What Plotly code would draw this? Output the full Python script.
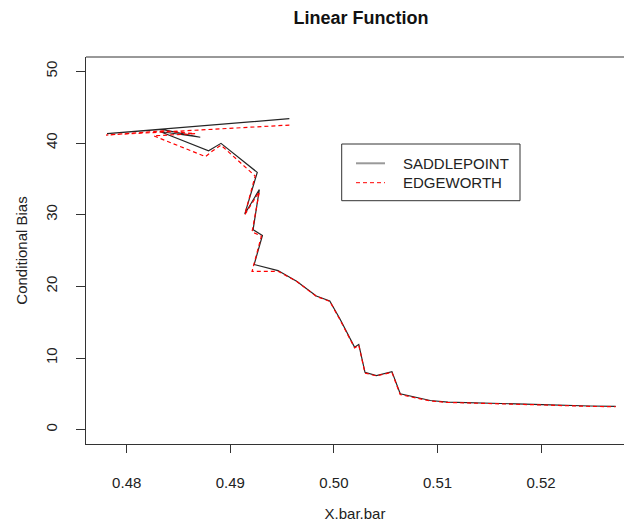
import plotly.graph_objects as go

# Saddlepoint approximation (drawn in data order)
saddle_x = [0.4957, 0.4781, 0.4834, 0.4871, 0.4832, 0.4879, 0.4891, 0.4926,
            0.4914, 0.4928, 0.4922, 0.4931, 0.4923, 0.4946, 0.4964, 0.4983,
            0.4996, 0.5006, 0.5020, 0.5024, 0.5030, 0.5041, 0.5056, 0.5064,
            0.5077, 0.5093, 0.5110, 0.5157, 0.5201, 0.5247, 0.5272]
saddle_y = [43.4, 41.3, 41.9, 40.8, 41.6, 38.9, 39.95, 35.9,
            30.1, 33.5, 27.9, 27.1, 23.05, 22.2, 20.7, 18.65,
            17.96, 15.4, 11.5, 11.9, 8.0, 7.55, 8.1, 5.0,
            4.54, 4.07, 3.85, 3.7, 3.5, 3.3, 3.25]

# Edgeworth approximation
edge_x = [0.4957, 0.4780, 0.4835, 0.4866, 0.4826, 0.4876, 0.4882, 0.4891,
          0.4924, 0.4914, 0.4928, 0.4921, 0.4930, 0.4921, 0.4946, 0.4964,
          0.4983, 0.4996, 0.5006, 0.5020, 0.5024, 0.5030, 0.5041, 0.5056,
          0.5064, 0.5077, 0.5093, 0.5110, 0.5157, 0.5201, 0.5247, 0.5272]
edge_y = [42.5, 41.1, 41.7, 41.3, 41.0, 38.1, 38.8, 39.7,
          35.4, 30.0, 33.2, 27.6, 27.0, 22.1, 22.1, 20.7,
          18.6, 17.9, 15.3, 11.4, 11.8, 7.9, 7.5, 8.0,
          4.9, 4.5, 4.0, 3.8, 3.65, 3.45, 3.25, 3.2]

x_ticks = [0.48, 0.49, 0.50, 0.51, 0.52]
x_tick_labels = ["0.48", "0.49", "0.50", "0.51", "0.52"]
y_ticks = [0, 10, 20, 30, 40, 50]
series_names = ["SADDLEPOINT", "EDGEWORTH"]

FONT = "Liberation Sans, Arial, sans-serif"
TXT = "#222222"

fig = go.Figure()
fig.add_trace(go.Scatter(x=saddle_x, y=saddle_y, mode="lines", name=series_names[0],
                         line=dict(color="#262626", width=1.2), showlegend=False))
fig.add_trace(go.Scatter(x=edge_x, y=edge_y, mode="lines", name=series_names[1],
                         line=dict(color="red", width=1.2, dash="4px,3px"), showlegend=False))

# plot area in pixels: left 86, right 624, top 57, bottom 444
L, R, T, B = 86, 624, 57, 444
W, H = 624, 524


def px(xp):
    return (xp - L) / (R - L)


def py(yp):
    return (B - yp) / (B - T)


shapes = [
    # top border of the box
    dict(type="line", xref="paper", yref="paper", x0=0, x1=1, y0=1, y1=1,
         line=dict(color="#333333", width=1)),
    # legend box
    dict(type="rect", xref="paper", yref="paper", x0=px(341.7), x1=px(520),
         y0=py(200.7), y1=py(144), line=dict(color="#333333", width=1),
         fillcolor="white"),
    dict(type="line", xref="paper", yref="paper", x0=px(356), x1=px(385),
         y0=py(163.3), y1=py(163.3), line=dict(color="#999999", width=2)),
    dict(type="line", xref="paper", yref="paper", x0=px(356), x1=px(385),
         y0=py(182.7), y1=py(182.7), line=dict(color="red", width=1, dash="4px,3px")),
]
annotations = [
    dict(xref="paper", yref="paper", x=px(400.7), y=py(163.3), text=series_names[0],
         showarrow=False, xanchor="left", yanchor="middle",
         font=dict(family=FONT, size=15, color=TXT)),
    dict(xref="paper", yref="paper", x=px(400.7), y=py(182.7), text=series_names[1],
         showarrow=False, xanchor="left", yanchor="middle",
         font=dict(family=FONT, size=15, color=TXT)),
]

fig.update_layout(
    width=W, height=H,
    margin=dict(l=L, r=W - R, t=T, b=H - B, pad=0),
    plot_bgcolor="white", paper_bgcolor="white",
    font=dict(family=FONT, size=15, color=TXT),
    title=dict(text="<b>Linear Function</b>", x=361 / W, xref="container", xanchor="center",
               y=1 - 18 / H, yref="container", yanchor="middle",
               font=dict(family=FONT, size=18, color="#111111")),
    xaxis=dict(range=[0.47607, 0.48 + (R - 126.7) / 10360], tickvals=x_ticks,
               ticktext=x_tick_labels, ticks="outside", ticklen=8, tickcolor="#333333",
               showline=True, linecolor="#333333", linewidth=1, showgrid=False,
               zeroline=False, ticklabelstandoff=17,
               title=dict(text="X.bar.bar", standoff=18, font=dict(size=15))),
    yaxis=dict(range=[-2, 52], tickvals=y_ticks, ticks="outside", ticklen=9,
               tickcolor="#333333", tickangle=-90,
               showline=True, linecolor="#333333", linewidth=1, showgrid=False,
               zeroline=False, ticklabelstandoff=13,
               title=dict(text="Conditional Bias", standoff=11, font=dict(size=15))),
    shapes=shapes, annotations=annotations, showlegend=False,
)

fig.write_html("out.html")
